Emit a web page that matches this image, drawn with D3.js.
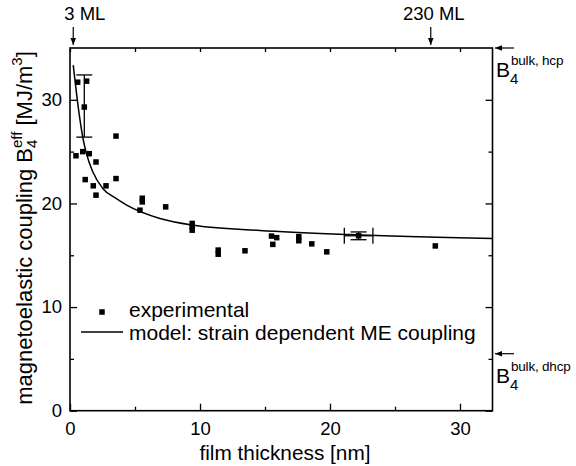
<!DOCTYPE html>
<html>
<head>
<meta charset="utf-8">
<script src="https://cdn.jsdelivr.net/npm/d3@7"></script>
<style>
  body { margin: 0; background: #fff; }
  svg { display: block; font-family: "Liberation Sans", Arial, Helvetica, sans-serif; }
</style>
</head>
<body>
<svg id="chart" width="576" height="466"></svg>
<script>
// experimental points [thickness nm, B4eff MJ/m3]
const expThickness = [0.59, 1.28, 1.1, 3.54, 0.98, 1.48, 0.46, 2.0, 1.17, 3.54, 1.79, 2.77, 2.0,
    5.56, 5.56, 5.38, 7.36, 9.4, 9.4, 9.4, 11.4, 11.4, 13.46, 15.5, 15.9, 15.6, 17.6, 17.6,
    18.6, 19.75, 22.2, 28.1];
const expCoupling = [31.7, 31.8, 29.3, 26.5, 25.0, 24.8, 24.6, 24.0, 22.3, 22.4, 21.7, 21.7, 20.8,
    20.5, 20.15, 19.35, 19.67, 18.07, 17.74, 17.42, 15.5, 15.1, 15.43, 16.85, 16.7, 16.05, 16.8, 16.4,
    16.1, 15.33, 16.88, 15.9];

// model curve
const modelThickness = [0.25, 0.72, 0.98, 1.23, 1.75, 2.52, 3.54, 4.36, 6.92, 9.48, 14.6, 21.5, 32.5];
const modelCoupling = [33.34, 28.5, 26.4, 24.98, 23.05, 21.45, 20.48, 19.84, 18.55, 17.9, 17.4, 17.0, 16.62];

// error bars: [x, y, yLow, yHigh, xLow, xHigh]
const errorBars = [
    [1.1, 29.3, 26.4, 32.4, null, null],
    [22.2, 16.88, 16.5, 17.25, 21.1, 23.3]
];

// top markers (monolayers) and bulk values on the right
const mlMarks = [{ x: 0.25, label: "3 ML" }, { x: 27.75, label: "230 ML" }];
const bulkMarks = [{ y: 35, sup: "bulk, hcp" }, { y: 5.5, sup: "bulk, dhcp" }];

const xMajor = [0, 10, 20, 30], xMinor = [5, 15, 25];
const yMajor = [0, 10, 20, 30], yMinor = [5, 15, 25];

const svg = d3.select("#chart");
const mLeft = 70, mRight = 492.5, mTop = 48, mBottom = 410.7;

const x = d3.scaleLinear().domain([0, 32.5]).range([mLeft, mRight]);
const y = d3.scaleLinear().domain([0, 35]).range([mBottom, mTop]);

// axes: ticks point inward, majors longer than minors
function addAxis(axis, transform, labels) {
    const g = svg.append("g").attr("transform", transform).call(axis);
    g.select(".domain").remove();
    g.selectAll("line").attr("stroke", "#000").attr("stroke-width", 1.3);
    g.selectAll("text").attr("font-size", 18.5).attr("fill", "#000");
    if (!labels) g.selectAll("text").remove();
    return g;
}
addAxis(d3.axisBottom(x).tickValues(xMajor).tickSize(-7).tickPadding(11).tickFormat(d3.format("d")), `translate(0,${mBottom})`, true);
addAxis(d3.axisBottom(x).tickValues(xMinor).tickSize(-4), `translate(0,${mBottom})`, false);
addAxis(d3.axisTop(x).tickValues(xMajor.concat(xMinor)).tickSize(-4), `translate(0,${mTop})`, false);
addAxis(d3.axisLeft(y).tickValues(yMajor).tickSize(-7).tickPadding(8).tickFormat(d3.format("d")), `translate(${mLeft},0)`, true);
addAxis(d3.axisLeft(y).tickValues(yMinor).tickSize(-4), `translate(${mLeft},0)`, false);
addAxis(d3.axisRight(y).tickValues(yMajor).tickSize(-7), `translate(${mRight},0)`, false);
addAxis(d3.axisRight(y).tickValues(yMinor).tickSize(-4), `translate(${mRight},0)`, false);

// frame
svg.append("rect")
    .attr("x", mLeft).attr("y", mTop)
    .attr("width", mRight - mLeft).attr("height", mBottom - mTop)
    .attr("fill", "none").attr("stroke", "#000").attr("stroke-width", 1.6);

// model curve
const line = d3.line().x(d => x(d[0])).y(d => y(d[1])).curve(d3.curveMonotoneX);
svg.append("path")
    .datum(d3.zip(modelThickness, modelCoupling))
    .attr("d", line)
    .attr("fill", "none").attr("stroke", "#000").attr("stroke-width", 1.5);

// error bars
errorBars.forEach(e => {
    const g = svg.append("g").attr("stroke", "#000").attr("stroke-width", 1.3);
    const cx = x(e[0]), cy = y(e[1]);
    g.append("line").attr("x1", cx).attr("x2", cx).attr("y1", y(e[2])).attr("y2", y(e[3]));
    [e[2], e[3]].forEach(v => g.append("line")
        .attr("x1", cx - 8).attr("x2", cx + 8).attr("y1", y(v)).attr("y2", y(v)));
    if (e[4] != null) {
        g.append("line").attr("x1", x(e[4])).attr("x2", x(e[5])).attr("y1", cy).attr("y2", cy);
        [e[4], e[5]].forEach(v => g.append("line")
            .attr("x1", x(v)).attr("x2", x(v)).attr("y1", cy - 8).attr("y2", cy + 8));
    }
});

// experimental squares
const sq = 5.5;
svg.selectAll("rect.pt")
    .data(d3.zip(expThickness, expCoupling))
    .enter().append("rect")
    .attr("class", "pt")
    .attr("x", d => x(d[0]) - sq / 2).attr("y", d => y(d[1]) - sq / 2)
    .attr("width", sq).attr("height", sq)
    .attr("fill", "#000");

// arrow helper
svg.append("defs").append("marker")
    .attr("id", "head").attr("viewBox", "0 0 10 10")
    .attr("refX", 10).attr("refY", 5)
    .attr("markerWidth", 7).attr("markerHeight", 7)
    .attr("markerUnits", "userSpaceOnUse")
    .attr("orient", "auto")
    .append("path").attr("d", "M0,1 L10,5 L0,9 Z").attr("fill", "#000");

// monolayer markers above the frame
mlMarks.forEach((m, i) => {
    const px = x(m.x);
    svg.append("line")
        .attr("x1", px).attr("x2", px).attr("y1", 27).attr("y2", 45)
        .attr("stroke", "#000").attr("stroke-width", 1.2).attr("marker-end", "url(#head)");
    svg.append("text")
        .attr("x", i === 0 ? px - 9 : px + 3).attr("y", 20)
        .attr("text-anchor", i === 0 ? "start" : "middle")
        .attr("font-size", 18.5).text(m.label);
});

// bulk values on the right
bulkMarks.forEach(b => {
    const py = y(b.y);
    svg.append("line")
        .attr("x1", 514).attr("x2", 495).attr("y1", py).attr("y2", py)
        .attr("stroke", "#000").attr("stroke-width", 1.2).attr("marker-end", "url(#head)");
    const t = svg.append("text").attr("x", 496).attr("y", py + 29).attr("font-size", 21);
    t.append("tspan").text("B");
    t.append("tspan").attr("x", 510).attr("y", py + 36).attr("font-size", 15).text("4");
    t.append("tspan").attr("x", 511).attr("y", py + 17).attr("font-size", 13.5)
        .attr("letter-spacing", -0.2).text(b.sup);
});

// legend
svg.append("rect").attr("x", 102 - sq / 2).attr("y", 312 - sq / 2)
    .attr("width", sq).attr("height", sq).attr("fill", "#000");
svg.append("line").attr("x1", 81).attr("x2", 123).attr("y1", 332).attr("y2", 332)
    .attr("stroke", "#000").attr("stroke-width", 1.5);
svg.append("text").attr("x", 129).attr("y", 317).attr("font-size", 21).text("experimental");
svg.append("text").attr("x", 129).attr("y", 340).attr("font-size", 21)
    .text("model: strain dependent ME coupling");

// x axis title
svg.append("text").attr("x", 285).attr("y", 460).attr("text-anchor", "middle")
    .attr("font-size", 20.8).text("film thickness [nm]");

// y axis title, B with stacked sub/superscript
const yt = svg.append("g").attr("transform", "translate(32,228) rotate(-90)");
const parts = [
    { t: "magnetoelastic coupling B", s: 22, dy: 0 },
    { t: "eff", s: 15, dy: -10, stack: true },
    { t: "4", s: 15, dy: 5 },
    { t: "\u00a0[MJ/m", s: 22, dy: 0 },
    { t: "3", s: 15, dy: -10 },
    { t: "]", s: 22, dy: 0 }
];
let cursor = 0, stackStart = null;
const nodes = parts.map(p => {
    const el = yt.append("text").attr("font-size", p.s).attr("y", p.dy).text(p.t);
    const w = el.node().getComputedTextLength();
    if (p.stack) {
        stackStart = cursor;
        el.attr("x", cursor);
        cursor += w;
    } else if (stackStart !== null) {
        el.attr("x", stackStart);
        cursor = Math.max(cursor, stackStart + w);
        stackStart = null;
    } else {
        el.attr("x", cursor);
        cursor += w;
    }
    return el;
});
// center the whole label on the group origin
nodes.forEach(el => el.attr("x", +el.attr("x") - cursor / 2));
</script>
</body>
</html>
